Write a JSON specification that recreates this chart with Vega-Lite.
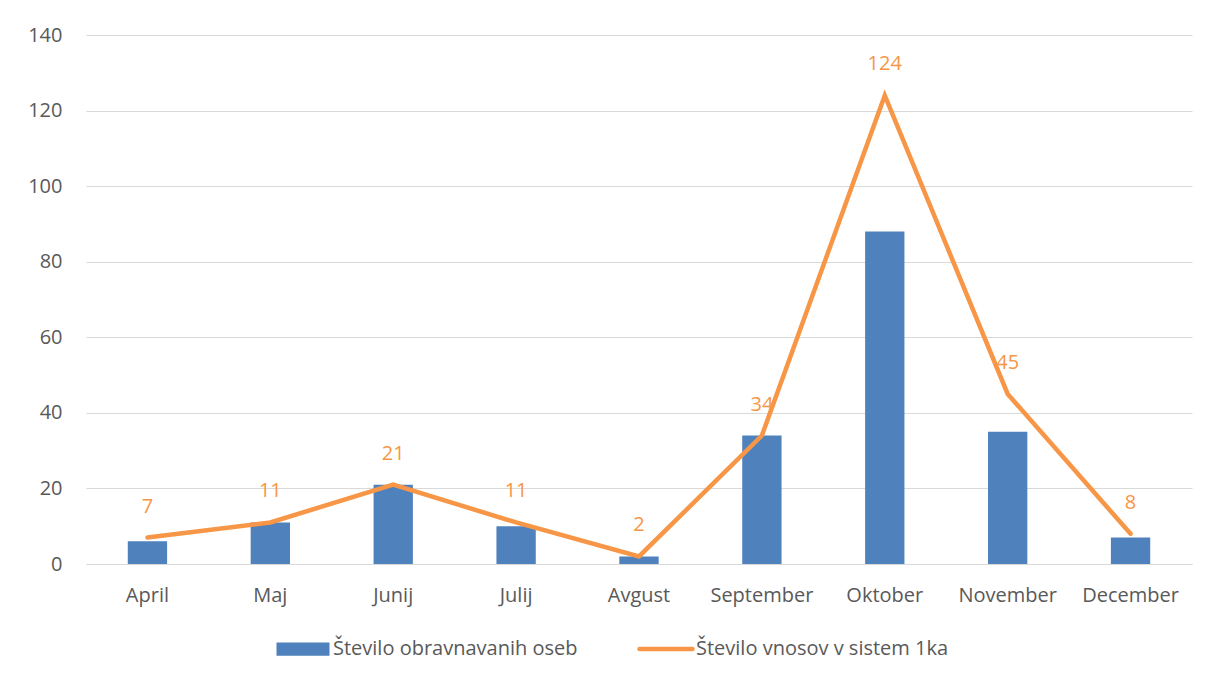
{
  "$schema": "https://vega.github.io/schema/vega-lite/v6.json",
  "width": 1106,
  "height": 529,
  "autosize": {"type": "none"},
  "padding": {"left": 86, "top": 35, "right": 27, "bottom": 117},
  "background": "white",
  "data": {"values": [
    {"mesec": "April", "osebe": 6, "vnosi": 7},
    {"mesec": "Maj", "osebe": 11, "vnosi": 11},
    {"mesec": "Junij", "osebe": 21, "vnosi": 21},
    {"mesec": "Julij", "osebe": 10, "vnosi": 11},
    {"mesec": "Avgust", "osebe": 2, "vnosi": 2},
    {"mesec": "September", "osebe": 34, "vnosi": 34},
    {"mesec": "Oktober", "osebe": 88, "vnosi": 124},
    {"mesec": "November", "osebe": 35, "vnosi": 45},
    {"mesec": "December", "osebe": 7, "vnosi": 8}
  ]},
  "encoding": {
    "x": {
      "field": "mesec", "type": "nominal", "sort": null,
      "scale": {"paddingInner": 0.68, "paddingOuter": 0.34},
      "axis": {"title": null, "labelAngle": 0, "ticks": false, "domainColor": "#d9d9d9", "domainWidth": 1, "labelPadding": 21, "labelFontSize": 20, "labelColor": "#595959", "labelFont": "Open Sans", "labelLimit": 300}
    }
  },
  "layer": [
    {
      "mark": {"type": "bar", "color": "#4F81BD"},
      "encoding": {
        "y": {
          "field": "osebe", "type": "quantitative",
          "scale": {"domain": [0, 140]},
          "axis": {"title": null, "values": [0, 20, 40, 60, 80, 100, 120, 140], "ticks": false, "domain": false, "gridColor": "#d9d9d9", "gridWidth": 1, "labelPadding": 24, "labelFontSize": 20, "labelColor": "#595959", "labelFont": "Open Sans"}
        },
        "color": {
          "datum": "Število obravnavanih oseb",
          "scale": {"domain": ["Število obravnavanih oseb", "Število vnosov v sistem 1ka"], "range": ["#4F81BD", "#F79646"]},
          "legend": {
            "title": null,
            "orient": "none",
            "legendX": 207,
            "legendY": 604,
            "direction": "horizontal",
            "columns": 2,
            "columnPadding": 52,
            "symbolSize": 2809,
            "labelOffset": 20,
            "labelLimit": 500,
            "labelFontSize": 20,
            "labelColor": "#595959",
            "labelFont": "Open Sans",
            "encode": {
              "symbols": {
                "update": {
                  "shape": {"signal": "datum.index === 0 ? 'M-1,-0.25H1V0.25H-1Z' : 'M-1,0H1'"},
                  "fill": {"signal": "datum.index === 0 ? '#4F81BD' : 'transparent'"},
                  "stroke": {"signal": "datum.index === 0 ? '#4F81BD' : '#F79646'"},
                  "strokeWidth": {"signal": "datum.index === 0 ? 0 : 4.5"},
                  "strokeCap": {"value": "round"},
                  "opacity": {"value": 1}
                }
              }
            }
          }
        }
      }
    },
    {
      "mark": {"type": "line", "strokeWidth": 4.5, "strokeCap": "round", "strokeJoin": "miter"},
      "encoding": {
        "y": {"field": "vnosi", "type": "quantitative"},
        "color": {"datum": "Število vnosov v sistem 1ka"}
      }
    },
    {
      "mark": {"type": "text", "color": "#F79646", "fontSize": 20, "font": "Open Sans", "baseline": "middle", "dy": -31},
      "encoding": {
        "y": {"field": "vnosi", "type": "quantitative"},
        "text": {"field": "vnosi", "type": "quantitative"}
      }
    }
  ],
  "config": {"view": {"stroke": null}}
}
